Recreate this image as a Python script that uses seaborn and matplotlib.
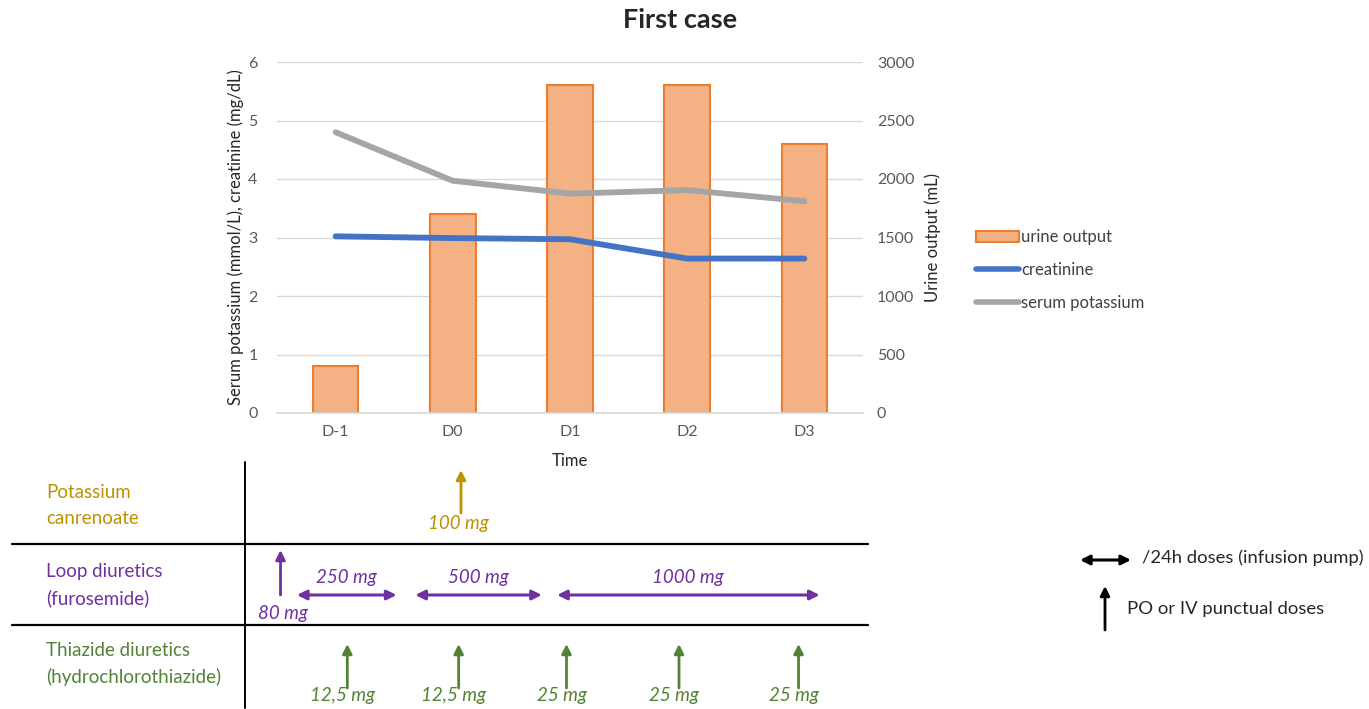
import matplotlib
matplotlib.use("Agg")
import matplotlib.pyplot as plt
from matplotlib.patches import Patch
from matplotlib.lines import Line2D
import seaborn as sns
import pandas as pd

# chart values
days = ["D-1", "D0", "D1", "D2", "D3"]
urine_output = [400, 1700, 2800, 2800, 2300]
creatinine = [3.02, 2.99, 2.97, 2.64, 2.64]
serum_potassium = [4.80, 3.97, 3.75, 3.81, 3.62]

# drug timeline, in day units (0 = D-1)
canrenoate_day = [1.07]
canrenoate_dose = ["100 mg"]
loop_bolus_day = [-0.47]
loop_bolus_dose = ["80 mg"]
loop_start = [-0.33, 0.68, 1.89]
loop_end = [0.52, 1.76, 4.13]
loop_dose = ["250 mg", "500 mg", "1000 mg"]
thiazide_day = [0.10, 1.05, 1.97, 2.93, 3.95]
thiazide_dose = ["12,5 mg", "12,5 mg", "25 mg", "25 mg", "25 mg"]

GOLD = "#BF9000"
PURPLE = "#7030A0"
GREEN = "#548235"
W, H = 1369, 709


def fx(px):
    return px / W


def fy(py):
    return 1 - py / H


df = pd.DataFrame({"day": days, "pos": range(len(days)), "urine": urine_output,
                   "creatinine": creatinine, "potassium": serum_potassium})

sns.set_theme(style="white")
plt.rcParams["font.family"] = ["Lato", "DejaVu Sans"]

fig = plt.figure(figsize=(W / 100, H / 100), dpi=100)
ax = fig.add_axes([fx(277), fy(413), fx(863) - fx(277), fy(62) - fy(413)])
ax_l = ax.twinx()  # lines on top, left scale

sns.barplot(data=df, x="day", y="urine", ax=ax, color="#F4B183", saturation=1,
            edgecolor="#ED7D31", linewidth=1.5, width=0.39)
sns.lineplot(data=df, x="pos", y="creatinine", ax=ax_l, color="#4472C4",
             linewidth=4.2, solid_capstyle="round")
sns.lineplot(data=df, x="pos", y="potassium", ax=ax_l, color="#A5A5A5",
             linewidth=4.2, solid_capstyle="round")

ax.set_xlim(-0.5, len(days) - 0.5)
ax.set_ylim(0, 3000)
ax.set_yticks(range(0, 3001, 500))
ax.yaxis.tick_right()
ax.yaxis.set_label_position("right")
ax.yaxis.grid(True, color="#D9D9D9", lw=1)
ax.set_axisbelow(True)
for s in ["top", "left", "right"]:
    ax.spines[s].set_visible(False)
ax.spines["bottom"].set_color("#D9D9D9")
ax.tick_params(length=0, labelsize=11.5, labelcolor="#595959", pad=9)
ax.tick_params(axis="y", pad=10)
ax.set_ylabel("Urine output (mL)", fontsize=12, color="#262626", labelpad=7)
ax.set_xlabel("Time", fontsize=12, color="#262626", labelpad=10)

ax_l.set_ylim(0, 6)
ax_l.set_yticks(range(7))
ax_l.yaxis.tick_left()
ax_l.yaxis.set_label_position("left")
for s in ax_l.spines.values():
    s.set_visible(False)
ax_l.tick_params(length=0, labelsize=11.5, labelcolor="#595959", pad=14)
ax_l.set_ylabel("Serum potassium (mmol/L), creatinine (mg/dL)", fontsize=12,
                color="#262626", labelpad=3)

fig.text(fx(680), fy(20), "First case", ha="center", va="center",
         fontsize=19.5, fontweight="bold")

handles = [Patch(facecolor="#F4B183", edgecolor="#ED7D31", lw=1.5),
           Line2D([], [], color="#4472C4", lw=4, solid_capstyle="round"),
           Line2D([], [], color="#A5A5A5", lw=4, solid_capstyle="round")]
fig.legend(handles, ["urine output", "creatinine", "serum potassium"],
           loc="center left", bbox_to_anchor=(fx(961), fy(270)), frameon=False,
           fontsize=12, handlelength=2.6, handletextpad=0.1, labelspacing=1.0,
           labelcolor="#404040")

# drug table below the chart, x in day units, y in pixel rows
ov = fig.add_axes([0, 0, 1, 1])
ov.set_xlim(-0.5 - 277 * 5 / 586, -0.5 + (W - 277) * 5 / 586)
ov.set_ylim(H, 0)
ov.axis("off")

for yy in [544, 625]:
    fig.add_artist(Line2D([fx(12), fx(868)], [fy(yy), fy(yy)], color="black", lw=1.6))
fig.add_artist(Line2D([fx(245), fx(245)], [fy(462), fy(708)], color="black", lw=1.4))

row_font = dict(fontsize=13.5, va="center", ha="left")
fig.text(fx(46), fy(492), "Potassium", color=GOLD, **row_font)
fig.text(fx(46), fy(519), "canrenoate", color=GOLD, **row_font)
fig.text(fx(46), fy(572), "Loop diuretics", color=PURPLE, **row_font)
fig.text(fx(46), fy(598), "(furosemide)", color=PURPLE, **row_font)
fig.text(fx(46), fy(651), "Thiazide diuretics", color=GREEN, **row_font)
fig.text(fx(46), fy(677), "(hydrochlorothiazide)", color=GREEN, **row_font)


def up_arrow(x, y0, y1, color, coords="data"):
    ov.annotate("", xy=(x, y1), xytext=(x, y0), xycoords=coords, textcoords=coords,
                arrowprops=dict(arrowstyle="-|>", color=color, lw=2,
                                mutation_scale=14, shrinkA=0, shrinkB=0))


def both_arrow(x0, x1, y, color, coords="data"):
    ov.annotate("", xy=(x1, y), xytext=(x0, y), xycoords=coords, textcoords=coords,
                arrowprops=dict(arrowstyle="<|-|>", color=color, lw=2.2,
                                mutation_scale=14, shrinkA=0, shrinkB=0))


dose_font = dict(fontsize=13.5, style="italic", ha="center", va="center")
for d, lab in zip(canrenoate_day, canrenoate_dose):
    up_arrow(d, 513, 470, GOLD)
    ov.text(d - 0.02, 524, lab, color=GOLD, **dose_font)
for d, lab in zip(loop_bolus_day, loop_bolus_dose):
    up_arrow(d, 595, 550, PURPLE)
    ov.text(d + 0.02, 613, lab, color=PURPLE, **dose_font)
for a, b, lab in zip(loop_start, loop_end, loop_dose):
    both_arrow(a, b, 595, PURPLE)
    ov.text((a + b) / 2, 577, lab, color=PURPLE, **dose_font)
for d, lab in zip(thiazide_day, thiazide_dose):
    up_arrow(d, 688, 644, GREEN)
    ov.text(d - 0.04, 696, lab, color=GREEN, **dose_font)

# arrow key
both_arrow(fx(1080), fx(1131), fy(560), "black", coords="figure fraction")
up_arrow(fx(1105), fy(630), fy(586), "black", coords="figure fraction")
fig.text(fx(1142), fy(558), "/24h doses (infusion pump)", fontsize=13.3,
         va="center", ha="left", color="#262626")
fig.text(fx(1127), fy(609), "PO or IV punctual doses", fontsize=13.3,
         va="center", ha="left", color="#262626")

fig.savefig("out.png", dpi=100)
